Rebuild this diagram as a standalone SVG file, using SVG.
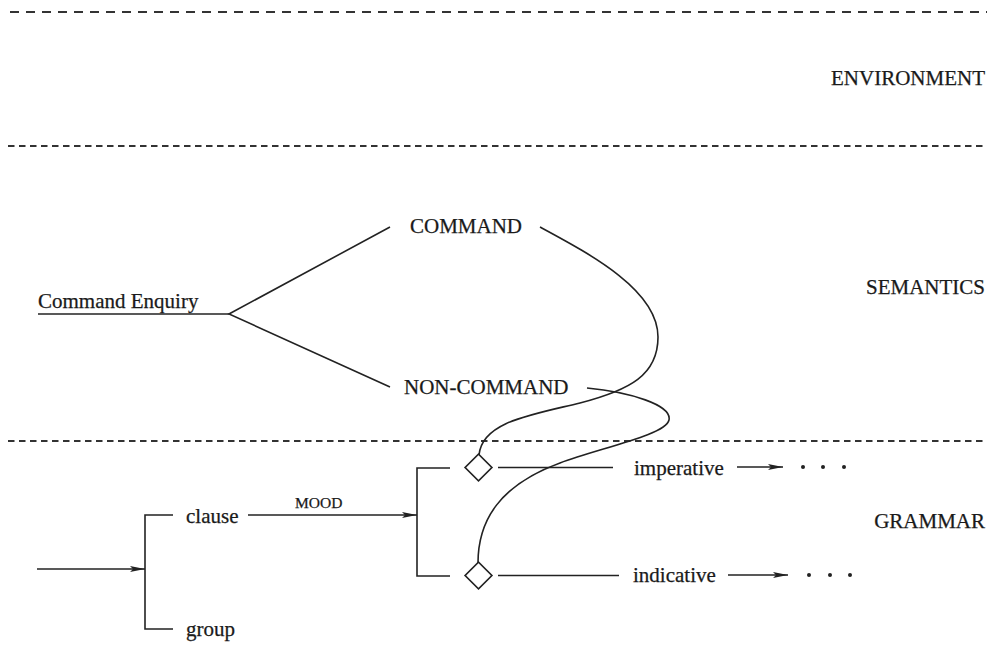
<svg xmlns="http://www.w3.org/2000/svg" width="997" height="646" viewBox="0 0 997 646">
  <style>
    .t { font-family: "Liberation Serif", "Times New Roman", Times, serif; font-size: 21px; fill: #1a1a1a; stroke: #1a1a1a; stroke-width: 0.25; }
    .small { font-size: 15.5px; }
    .ln { stroke: #222; stroke-width: 1.6; fill: none; }
    .dash { stroke: #333; stroke-width: 2; }
    .dia { stroke: #222; stroke-width: 1.6; fill: #fff; }
  </style>
  <defs>
    <marker id="ah" markerWidth="15" markerHeight="7" refX="15" refY="3.5" orient="auto" markerUnits="userSpaceOnUse">
      <path d="M0,0.5 L15,3.5 L0,6.5 L3,3.5 Z" fill="#222"/>
    </marker>
  </defs>
  <rect width="997" height="646" fill="#fff"/>

  <!-- stratum boundaries -->
  <g id="boundaries">
    <line class="dash" x1="10" y1="12" x2="987" y2="12" stroke-dasharray="9 7"/>
    <line class="dash" x1="8" y1="146" x2="987" y2="146" stroke-dasharray="6.5 4.5"/>
    <line class="dash" x1="8" y1="441" x2="985" y2="441" stroke-dasharray="6.5 4.5"/>
  </g>

  <!-- stratum labels -->
  <g id="strata">
    <text class="t" x="985" y="85" text-anchor="end">ENVIRONMENT</text>
    <text class="t" x="985" y="294" text-anchor="end">SEMANTICS</text>
    <text class="t" x="985" y="528" text-anchor="end">GRAMMAR</text>
  </g>

  <!-- semantic network -->
  <g id="command-enquiry"><text class="t" x="38" y="308">Command Enquiry</text></g>
  <g id="command"><text class="t" x="410" y="233">COMMAND</text></g>
  <g id="non-command"><text class="t" x="404" y="394">NON-COMMAND</text></g>

  <!-- grammar network -->
  <g id="clause"><text class="t" x="186" y="523">clause</text></g>
  <g id="group"><text class="t" x="186" y="636">group</text></g>
  <g id="imperative-node"><rect class="dia" x="469" y="458" width="19" height="19" transform="rotate(45 478.5 467.5)"/></g>
  <g id="indicative-node"><rect class="dia" x="469" y="566" width="19" height="19" transform="rotate(45 478.5 575.5)"/></g>
  <g id="imperative"><text class="t" x="634" y="475">imperative</text></g>
  <g id="indicative"><text class="t" x="633" y="582">indicative</text></g>
  <g id="mood-label"><text class="t small" x="295" y="508">MOOD</text></g>
  <g id="more-imperative">
    <circle cx="803" cy="467" r="2" fill="#222"/>
    <circle cx="823" cy="467" r="2" fill="#222"/>
    <circle cx="844" cy="467" r="2" fill="#222"/>
  </g>
  <g id="more-indicative">
    <circle cx="809" cy="575" r="2" fill="#222"/>
    <circle cx="830" cy="575" r="2" fill="#222"/>
    <circle cx="850" cy="575" r="2" fill="#222"/>
  </g>

  <g id="connectors">
    <!-- Command Enquiry system -->
    <polyline class="ln" points="38,314 229,314"/>
    <polyline class="ln" points="390,227 229,314 390,387"/>

    <!-- rank system -->
    <line class="ln" x1="37" y1="569" x2="145" y2="569" marker-end="url(#ah)"/>
    <polyline class="ln" points="173,515 145,515 145,629 173,629"/>

    <!-- MOOD system -->
    <line class="ln" x1="248" y1="515" x2="417" y2="515" marker-end="url(#ah)"/>
    <polyline class="ln" points="450,468 417,468 417,576 450,576"/>
    <line class="ln" x1="498" y1="467.5" x2="613" y2="467.5"/>
    <line class="ln" x1="498" y1="575.5" x2="619" y2="575.5"/>
    <line class="ln" x1="737" y1="467" x2="783" y2="467" marker-end="url(#ah)"/>
    <line class="ln" x1="728" y1="575" x2="788" y2="575" marker-end="url(#ah)"/>

    <!-- realisation: semantic features to grammatical features -->
    <path class="ln" d="M540,227 C590,254 658,290 658,337 C658,375 630,390 580,403 C530,415 482,422 479,455"/>
    <path class="ln" d="M587,388 C630,392 672,405 669,420 C666,435 600,448 560,463 C500,485 478,520 478,563"/>
  </g>
</svg>
